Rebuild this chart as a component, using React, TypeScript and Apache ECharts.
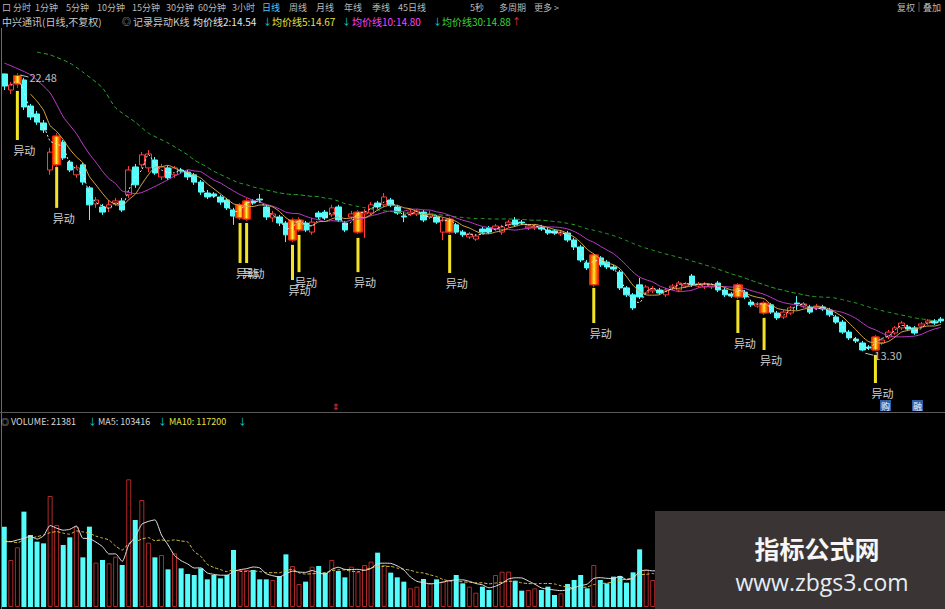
import React, { useEffect, useRef } from "react";
import * as echarts from "echarts";

// Daily bars of 中兴通讯: [open, close, low, high]
const ohlc: number[][] = [
  [22.45, 22.05, 21.92, 22.46], [21.92, 22.09, 21.79, 22.18], [22.12, 22.4, 21.99, 22.48], [22.25, 21.36, 21.26, 22.32],
  [21.39, 21.03, 20.93, 21.46], [21.13, 20.86, 20.77, 21.23], [20.83, 20.6, 20.5, 20.93], [19.28, 19.87, 19.12, 20.01],
  [19.45, 20.4, 19.35, 20.5], [20.2, 19.68, 19.61, 20.27], [19.54, 19.28, 19.21, 19.61], [19.12, 19.35, 19.02, 19.45],
  [19.45, 18.88, 18.79, 19.51], [18.69, 18.13, 17.63, 18.75], [18.16, 18.29, 18.03, 18.39], [18.06, 17.89, 17.8, 18.16],
  [18.03, 18.13, 17.89, 18.29], [18.19, 18.26, 18.09, 18.36], [18.26, 17.96, 17.89, 18.36], [18.46, 19.28, 18.36, 19.41],
  [19.38, 18.79, 18.69, 19.48], [19.45, 19.78, 19.35, 19.87], [19.35, 19.81, 19.21, 19.94], [19.61, 19.18, 19.12, 19.71],
  [19.05, 19.38, 18.95, 19.48], [19.35, 19.02, 18.95, 19.41], [19.12, 19.35, 19.02, 19.41], [19.28, 19.25, 19.18, 19.35],
  [19.21, 19.05, 18.95, 19.28], [19.12, 18.88, 18.79, 19.18], [18.88, 18.55, 18.46, 18.95], [18.52, 18.39, 18.32, 18.62],
  [18.49, 18.42, 18.36, 18.55], [18.39, 18.22, 18.13, 18.46], [18.29, 18.03, 17.96, 18.36], [17.96, 17.76, 17.47, 18.03],
  [17.7, 18.13, 17.63, 18.19], [17.66, 18.26, 17.6, 18.36], [18.26, 18.19, 18.13, 18.32], [18.32, 18.29, 18.19, 18.49],
  [18.06, 17.73, 17.63, 18.13], [17.7, 17.83, 17.56, 17.93], [17.73, 17.53, 17.43, 17.8], [17.53, 17.14, 16.9, 17.6],
  [16.97, 17.63, 16.9, 17.7], [17.3, 17.63, 17.23, 17.73], [17.53, 17.3, 17.23, 17.6], [17.23, 17.56, 17.14, 17.7],
  [17.86, 17.73, 17.66, 17.93], [17.89, 17.7, 17.63, 17.96], [17.8, 18.03, 17.73, 18.13], [18.06, 17.63, 17.56, 18.13],
  [17.53, 17.3, 17.23, 17.6], [17.73, 17.83, 17.66, 17.93], [17.23, 17.89, 17.17, 17.96], [17.83, 17.89, 17.04, 17.99],
  [17.86, 18.13, 17.8, 18.22], [18.19, 18.06, 18.0, 18.26], [18.13, 18.39, 18.06, 18.52], [18.29, 18.13, 18.06, 18.36],
  [18.06, 17.86, 17.8, 18.13], [17.76, 17.73, 17.56, 17.89], [17.83, 17.89, 17.76, 17.99], [17.83, 17.93, 17.76, 17.99],
  [17.89, 17.63, 17.56, 17.96], [17.73, 17.83, 17.66, 17.93], [17.73, 17.56, 17.5, 17.8], [17.23, 17.63, 16.97, 17.7],
  [17.23, 17.66, 17.17, 17.73], [17.47, 17.23, 17.17, 17.53], [17.23, 17.14, 17.07, 17.3], [17.07, 17.17, 17.0, 17.23],
  [17.0, 17.1, 16.94, 17.17], [17.33, 17.23, 17.17, 17.4], [17.37, 17.23, 17.17, 17.43], [17.33, 17.43, 17.27, 17.5],
  [17.23, 17.4, 17.14, 17.47], [17.47, 17.56, 17.4, 17.63], [17.63, 17.47, 17.4, 17.73], [17.56, 17.53, 17.47, 17.63],
  [17.37, 17.43, 17.3, 17.5], [17.37, 17.43, 17.3, 17.5], [17.4, 17.33, 17.27, 17.47], [17.3, 17.2, 17.14, 17.37],
  [17.27, 17.2, 17.14, 17.33], [17.17, 17.23, 17.1, 17.3], [17.2, 16.97, 16.9, 17.27], [16.97, 16.74, 16.64, 17.04],
  [16.74, 16.31, 16.24, 16.81], [16.21, 16.05, 15.98, 16.31], [15.49, 16.48, 15.42, 16.54], [16.38, 16.15, 16.08, 16.44],
  [16.24, 16.08, 16.01, 16.31], [16.08, 16.01, 15.95, 16.15], [15.91, 15.39, 15.32, 15.98], [15.39, 15.16, 15.09, 15.45],
  [15.16, 14.73, 14.66, 15.22], [15.49, 15.09, 15.02, 15.72], [15.22, 15.42, 15.16, 15.49], [15.29, 15.35, 15.22, 15.45],
  [15.32, 15.22, 15.16, 15.39], [15.16, 15.32, 15.09, 15.39], [15.39, 15.45, 15.32, 15.52], [15.32, 15.55, 15.25, 15.62],
  [15.45, 15.52, 15.39, 15.58], [15.78, 15.49, 15.42, 15.85], [15.45, 15.52, 15.39, 15.58], [15.42, 15.52, 15.35, 15.58],
  [15.42, 15.49, 15.35, 15.55], [15.55, 15.32, 15.25, 15.62], [15.32, 15.16, 15.09, 15.39], [15.19, 15.12, 15.06, 15.25],
  [15.09, 15.49, 15.02, 15.55], [15.25, 15.09, 15.02, 15.32], [14.92, 14.83, 14.76, 14.99], [14.79, 14.86, 14.73, 14.92],
  [14.56, 14.89, 14.5, 14.96], [14.83, 14.59, 14.53, 14.89], [14.56, 14.4, 14.33, 14.63], [14.43, 14.59, 14.36, 14.66],
  [14.56, 14.73, 14.5, 14.79], [14.89, 14.86, 14.66, 15.12], [14.79, 14.86, 14.73, 14.92], [14.76, 14.59, 14.53, 14.83],
  [14.73, 14.79, 14.66, 14.86], [14.76, 14.69, 14.63, 14.83], [14.66, 14.5, 14.43, 14.73], [14.43, 14.26, 14.2, 14.5],
  [14.26, 13.93, 13.87, 14.33], [13.93, 13.74, 13.67, 14.0], [13.7, 13.64, 13.57, 13.77], [13.57, 13.34, 13.3, 13.64],
  [13.44, 13.41, 13.34, 13.5], [13.34, 13.77, 13.31, 13.84], [13.57, 13.67, 13.51, 13.74], [13.77, 13.93, 13.7, 14.0],
  [13.9, 14.07, 13.84, 14.13], [14.07, 14.23, 14.0, 14.3], [14.1, 14.03, 13.97, 14.17], [14.07, 13.9, 13.84, 14.13],
  [14.13, 14.2, 14.07, 14.26], [14.23, 14.3, 14.17, 14.36], [14.3, 14.23, 14.17, 14.36], [14.36, 14.3, 14.23, 14.43],
];

// Daily volume (lots)
const volumes: number[] = [
  281200, 164500, 208800, 333700, 252000, 228700, 222800, 388500, 287000, 217000,
  243800, 281200, 173800, 281200, 155200, 164500, 152800, 176200, 147000, 446800,
  304500, 374500, 225200, 173800, 182000, 131800, 187800, 135300, 115500, 112000,
  135300, 96800, 112000, 100300, 112000, 199500, 129500, 129500, 129500, 96800,
  96800, 94500, 108500, 184300, 143500, 80500, 88700, 141200, 143500, 120200,
  164500, 126000, 103800, 141200, 123700, 147000, 158700, 190200, 147000, 120200,
  103800, 88700, 65300, 71200, 98000, 82800, 96800, 88700, 94500, 112000,
  82800, 71200, 50200, 71200, 59500, 112000, 123700, 123700, 92200, 57200,
  59500, 65300, 59500, 71200, 42000, 47800, 80500, 94500, 112000, 65300,
  147000, 94500, 82800, 106200, 108500, 85200, 121300, 201800, 129500, 94500,
  88000, 102000, 76000, 95000, 70000, 84000, 66000, 72000, 61000, 79000,
  90000, 68000, 135000, 97000, 104000, 73000, 142000, 101000, 96000, 83000,
  92000, 117000, 78000, 86000, 74000, 69000, 88000, 106000, 148000, 132000,
  97000, 158000, 121000, 196000, 128000, 142000, 131000, 126000, 127920, 119000,
  131000, 122000, 123699, 21381,
];

// Bars flagged by the 记录异动K线 indicator, with its marker stems [bar, top, bottom]
const spikeBars: number[] = [2, 8, 36, 37, 44, 45, 54, 68, 90, 112, 116, 133];
const spikeStems: number[][] = [
  [2, 21.89, 20.27], [8, 19.38, 18.03], [36, 17.53, 16.21], [37, 17.53, 16.21],
  [44, 16.81, 15.65], [45, 17.14, 15.91], [54, 17.04, 15.91], [68, 17.14, 15.88],
  [90, 15.39, 14.23], [112, 14.99, 13.9], [116, 14.4, 13.34], [133, 13.18, 12.25],
];

// Highest / lowest marks [bar, price]
const extremes: number[][] = [[2, 22.48], [131, 13.3]];

// Moving-average values before their windows fill (index -> value)
const ma10Lead: (number | null)[] = [22.81, null, null, null, 22.42, null, null, 21.82, null];
const ma30Lead: (number | null)[] = [
  null, null, null, null, null, 23.17, null, 23.08, null, null, 22.81, null, 22.51, null, null,
  21.99, null, 21.33, null, null, 20.86, null, 20.5, null, null, 20.17, null, null, 19.78,
];
const volMa5Lead: (number | null)[] = [228700, 228700, 234500, 240300];
const volMa10Lead: (number | null)[] = [234500, 228700, 225200, 234500, 240300, 246200, 252000, 260200, 263700];

const toolbarItems: [string, number][] = [
  ["口", 2], ["分时", 13], ["1分钟", 35], ["5分钟", 66], ["10分钟", 97], ["15分钟", 132], ["30分钟", 166],
  ["60分钟", 198], ["3小时", 232], ["日线", 262], ["周线", 289], ["月线", 316], ["年线", 344], ["季线", 372],
  ["45日线", 398], ["5秒", 470], ["多周期", 499], ["更多 >", 534], ["复权", 897], ["叠加", 923],
];

const days = ohlc.map((_, i) => String(i + 1));
const closes = ohlc.map((d) => d[1]);

function movingAverage(src: number[], n: number, lead: (number | null)[]) {
  return src.map((_, i) => {
    if (i < n - 1) return lead[i] ?? null;
    let s = 0;
    for (let k = i - n + 1; k <= i; k++) s += src[k];
    return +(s / n).toFixed(3);
  });
}

const FONT = '"Noto Sans CJK SC", "Noto Sans", sans-serif';
const UP = "#ff3c3c";
const DOWN = "#54fcfc";

export default function App() {
  const ref = useRef<HTMLDivElement>(null);

  useEffect(() => {
    if (!ref.current) return;
    const chart = echarts.init(ref.current, null, { renderer: "svg" });

    const ma2 = movingAverage(closes, 2, []);
    const ma5 = movingAverage(closes, 5, []);
    const ma10 = movingAverage(closes, 10, ma10Lead);
    const ma30 = movingAverage(closes, 30, ma30Lead);
    const vma5 = movingAverage(volumes, 5, volMa5Lead);
    const vma10 = movingAverage(volumes, 10, volMa10Lead);

    const spikeData = ohlc.map((d, i) => (spikeBars.includes(i) ? d : ["-", "-", "-", "-"]));
    const spikeFill = new echarts.graphic.LinearGradient(0, 0, 1, 0, [
      { offset: 0, color: "#e01808" },
      { offset: 0.3, color: "#ff8a00" },
      { offset: 0.5, color: "#fff23a" },
      { offset: 0.7, color: "#ff8a00" },
      { offset: 1, color: "#e01808" },
    ]);

    const volData = volumes.map((v, i) => {
      const d = ohlc[i];
      const up = d[1] > d[0] || (d[1] === d[0] && i > 0 && d[1] >= ohlc[i - 1][1]);
      return {
        value: v,
        itemStyle: up
          ? { color: "rgba(0,0,0,0)", borderColor: "#b02a2a", borderWidth: 1 }
          : { color: DOWN, borderColor: DOWN, borderWidth: 0 },
      };
    });

    const maLine = (name: string, data: (number | null)[], color: string, type: any, xi = 0, yi = 0) => ({
      name,
      type: "line",
      xAxisIndex: xi,
      yAxisIndex: yi,
      data,
      symbol: "none",
      connectNulls: true,
      smooth: 0.2,
      z: 4,
      lineStyle: { color, width: 1, type },
    });

    const t = (text: string, x: number, y: number, fill: string, size = 10, extra: any = {}) => ({
      type: "text",
      x,
      y,
      z: 100,
      style: { text, fill, font: `${size}px ${FONT}`, verticalAlign: "middle", ...extra },
    });

    const graphics: any[] = [];
    // top toolbar
    toolbarItems.forEach(([label, x]) => {
      graphics.push(t(label, x, 7, label === "日线" ? "#4cc8ff" : "#b8b8b8", 9));
    });
    graphics.push({ type: "line", z: 100, shape: { x1: 919, y1: 2, x2: 919, y2: 12 }, style: { stroke: "#555", lineWidth: 1 } });
    // price pane legend
    graphics.push(t("中兴通讯(日线,不复权)", 2, 21, "#c8c8c8"));
    graphics.push(t("◎", 122, 21, "#c8c8c8", 9));
    graphics.push(t("记录异动K线", 133, 21, "#c8c8c8"));
    graphics.push(t("均价线2:14.54", 193, 21, "#e6e6e6"));
    graphics.push(t("↓", 263, 21, "#00d8e0", 9));
    graphics.push(t("均价线5:14.67", 272, 21, "#e8e040"));
    graphics.push(t("↓", 342, 21, "#00d8e0", 9));
    graphics.push(t("均价线10:14.80", 352, 21, "#ff40ff"));
    graphics.push(t("↓", 433, 21, "#00d8e0", 9));
    graphics.push(t("均价线30:14.88", 442, 21, "#38d838"));
    graphics.push(t("↑", 512, 21, "#ff3030", 9));
    // volume pane legend
    graphics.push(t("◎", 1, 421, "#c8c8c8", 8));
    graphics.push(t("VOLUME: 21381", 11, 421, "#d8d8d8", 9));
    graphics.push(t("↓", 88, 421, "#00d8e0", 9));
    graphics.push(t("MA5: 103416", 98, 421, "#d8d8d8", 9));
    graphics.push(t("↓", 158, 421, "#00d8e0", 9));
    graphics.push(t("MA10: 117200", 169, 421, "#e8e040", 9));
    graphics.push(t("↓", 238, 421, "#00d8e0", 9));
    // frame lines
    graphics.push({ type: "line", z: 90, shape: { x1: 1.5, y1: 28, x2: 1.5, y2: 609 }, style: { stroke: "#6a6a6a", lineWidth: 1 } });
    graphics.push({ type: "line", z: 90, shape: { x1: 0, y1: 412.5, x2: 945, y2: 412.5 }, style: { stroke: "#5a5a5a", lineWidth: 1 } });
    // small markers along the bottom of the price pane
    graphics.push(t("⇕", 332, 406, "#ff3030", 9));
    graphics.push({ type: "rect", z: 100, shape: { x: 880, y: 400, width: 11, height: 11 }, style: { fill: "#2b5fa8" } });
    graphics.push(t("购", 881, 406, "#ffffff", 9));
    graphics.push({ type: "rect", z: 100, shape: { x: 912, y: 400, width: 11, height: 11 }, style: { fill: "#2b5fa8" } });
    graphics.push(t("融", 913, 406, "#ffffff", 9));
    // site badge over the lower right
    graphics.push({ type: "rect", z: 110, shape: { x: 655, y: 511, width: 290, height: 98 }, style: { fill: "#3a3434" } });
    graphics.push({
      type: "text", z: 111, x: 817, y: 548,
      style: { text: "指标公式网", fill: "#f6f6f6", font: `bold 25px ${FONT}`, align: "center", verticalAlign: "middle" },
    });
    graphics.push({
      type: "text", z: 111, x: 822, y: 582,
      style: { text: "www.zbgs3.com", fill: "#e6edf5", font: `23px "Open Sans", "DejaVu Sans", sans-serif`, align: "center", verticalAlign: "middle" },
    });

    const option: any = {
      animation: false,
      backgroundColor: "#000000",
      grid: [
        { left: 1, width: 943.2, top: 30, height: 380 },
        { left: 1, width: 943.2, top: 430, height: 177 },
      ],
      xAxis: [0, 1].map((g) => ({
        type: "category",
        gridIndex: g,
        data: days,
        boundaryGap: true,
        axisLine: { show: false },
        axisTick: { show: false },
        axisLabel: { show: false },
        splitLine: { show: false },
      })),
      yAxis: [
        { type: "value", gridIndex: 0, min: 11.36, max: 23.9, show: false, splitLine: { show: false } },
        { type: "value", gridIndex: 1, min: 0, max: 619500, show: false, splitLine: { show: false } },
      ],
      series: [
        {
          name: "K线",
          type: "candlestick",
          data: ohlc,
          barWidth: 6,
          z: 2,
          itemStyle: { color: "#000000", color0: DOWN, borderColor: UP, borderColor0: DOWN, borderWidth: 1 },
        },
        {
          name: "异动K线",
          type: "candlestick",
          data: spikeData,
          barWidth: 9,
          z: 3,
          itemStyle: { color: spikeFill, color0: spikeFill, borderColor: "#e8200c", borderColor0: "#e8200c", borderWidth: 1 },
        },
        maLine("均价线30", ma30, "#2aa82a", [4, 3]),
        maLine("均价线10", ma10, "#c03ccc", "solid"),
        maLine("均价线5", ma5, "#d8a848", "solid"),
        maLine("均价线2", ma2, "#e8e8e8", [2, 2]),
        {
          name: "异动",
          type: "custom",
          data: spikeStems,
          encode: { x: 0, y: [1, 2] },
          z: 5,
          renderItem: (_p: any, api: any) => {
            const top = api.coord([api.value(0), api.value(1)]);
            const bot = api.coord([api.value(0), api.value(2)]);
            return {
              type: "group",
              children: [
                { type: "rect", shape: { x: top[0] - 1.5, y: top[1], width: 3, height: bot[1] - top[1] }, style: { fill: "#f2e424" } },
                { type: "text", x: top[0] - 4, y: bot[1] + 10, style: { text: "异动", fill: "#d4d4d4", font: `11px ${FONT}`, verticalAlign: "middle" } },
              ],
            };
          },
        },
        {
          name: "极值",
          type: "custom",
          data: extremes,
          encode: { x: 0, y: 1 },
          z: 6,
          renderItem: (_p: any, api: any) => {
            const p = api.coord([api.value(0), api.value(1)]);
            const v = api.value(1).toFixed(2);
            return {
              type: "group",
              children: [
                { type: "line", shape: { x1: p[0] + 3, y1: p[1] + 2, x2: p[0] + 11, y2: p[1] + 4 }, style: { stroke: "#bdbdbd", lineWidth: 1 } },
                { type: "text", x: p[0] + 12, y: p[1] + 4, style: { text: v, fill: "#bdbdbd", font: `11px ${FONT}`, verticalAlign: "middle" } },
              ],
            };
          },
        },
        {
          name: "VOLUME",
          type: "bar",
          xAxisIndex: 1,
          yAxisIndex: 1,
          data: volData,
          barWidth: 5,
          z: 2,
        },
        maLine("MA10", vma10, "#d8c040", [3, 2], 1, 1),
        maLine("MA5", vma5, "#e0e0e0", "solid", 1, 1),
      ],
      graphic: { elements: graphics },
    };

    chart.setOption(option);
    return () => chart.dispose();
  }, []);

  return <div ref={ref} style={{ width: 945, height: 609, position: "fixed", left: 0, top: 0, background: "#000" }} />;
}
